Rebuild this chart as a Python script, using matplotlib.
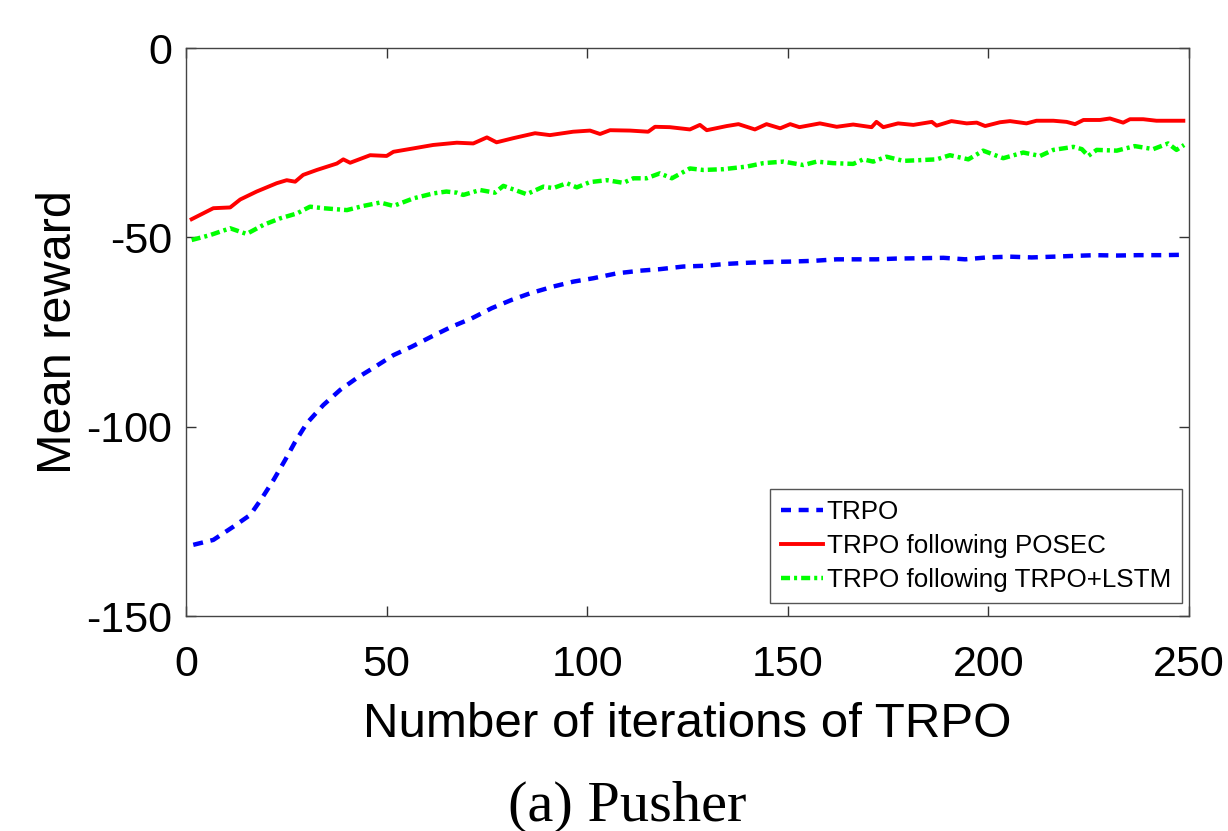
import matplotlib
matplotlib.use("Agg")
import matplotlib.pyplot as plt

plt.rcParams['font.family'] = ['Liberation Sans', 'DejaVu Sans']
plt.rcParams['lines.scale_dashes'] = False
plt.rcParams['axes.unicode_minus'] = False

# ---- data ----
trpo_x = [1.8, 6.8, 11.8, 16, 18.9, 21.8, 24.7, 27.2, 30.1, 34.2, 38.4, 42.5, 47.1, 51.7,
          56.2, 61.2, 66.2, 71.2, 76.2, 81.2, 85.7, 91.5, 96.5, 101.5, 107.4, 113.2, 118.1,
          124, 129.4, 134.8, 140.2, 145.6, 150.6, 156.4, 162.2, 167.2, 172.1, 177.1, 183.8,
          188.8, 194.2, 199.6, 205.4, 210.8, 216.2, 221.2, 226.6, 232, 237.4, 243.2, 248.6]
trpo_y = [-131.2, -129.9, -126.4, -123.3, -118.9, -114.1, -108.8, -104, -99.1, -94.3, -90.3,
          -87.2, -84.2, -81.1, -78.9, -76.2, -73.6, -71.4, -68.7, -66.5, -64.8, -63, -61.7,
          -60.8, -59.5, -58.8, -58.4, -57.7, -57.5, -57, -56.7, -56.5, -56.4, -56.2, -55.8,
          -55.8, -55.8, -55.6, -55.5, -55.4, -55.8, -55.3, -55.1, -55.3, -55.1, -54.9, -54.7,
          -54.8, -54.7, -54.7, -54.6]

posec_x = [1.4, 6.8, 11, 13.5, 17.6, 22.6, 25.1, 27.2, 29.2, 32.6, 37.6, 39.2, 40.9, 45.9, 50,
           51.7, 56.7, 61.6, 67.5, 71.6, 75, 77.4, 81.6, 87, 90.7, 96.5, 100.7, 103.2, 105.7,
           110.7, 115.2, 116.9, 120.6, 125.6, 128.1, 129.8, 134.8, 137.7, 141.8, 144.7, 148.1,
           150.6, 152.9, 158, 162.2, 166.3, 170.9, 172.1, 173.8, 177.5, 181.3, 185.9, 187.1,
           190.8, 194.6, 197.1, 199.2, 202.9, 205.4, 209.5, 212, 216.2, 219.5, 221.6, 223.7,
           227.8, 230.3, 233.6, 235.3, 238.6, 241.9, 245.3, 248.6]
posec_y = [-45.2, -42.3, -42.1, -40, -37.9, -35.7, -34.9, -35.3, -33.5, -32.2, -30.5, -29.4,
           -30.3, -28.3, -28.5, -27.4, -26.5, -25.6, -25, -25.2, -23.6, -24.9, -23.8, -22.5,
           -23, -22.1, -21.8, -22.7, -21.7, -21.8, -22.1, -20.8, -20.9, -21.5, -20.3, -21.7,
           -20.6, -20.1, -21.5, -20.1, -21.2, -20.1, -20.9, -19.9, -20.8, -20.2, -20.9, -19.5,
           -20.9, -19.9, -20.3, -19.5, -20.5, -19.3, -19.9, -19.7, -20.6, -19.6, -19.3, -19.9,
           -19.2, -19.2, -19.5, -20.1, -19, -19, -18.6, -19.7, -18.8, -18.8, -19.2, -19.2, -19.2]

lstm_x = [1.4, 6, 11, 15.1, 19.3, 23.4, 27.6, 30.9, 34.2, 40.1, 44.2, 48.4, 51.7, 56.7, 61.6,
          64.9, 67.5, 69.1, 73.3, 77, 79.1, 84.9, 89.1, 91.5, 94.9, 97.4, 100.7, 104.9, 109,
          111.5, 114.8, 118.1, 121.1, 125.6, 128.9, 133.9, 139.8, 143.9, 148.9, 153.9, 157.2,
          161.3, 166.3, 168.8, 171.3, 174.6, 178.8, 183, 187.1, 190.4, 195, 198.7, 203.7,
          208.7, 212.9, 216.2, 221.2, 223.3, 224.9, 227, 232, 236.5, 241.1, 244.8, 246.9, 248.8]
lstm_y = [-50.7, -49.4, -47.6, -49.1, -46.7, -45, -43.7, -41.9, -42.3, -42.8, -41.7, -40.8,
          -41.7, -39.7, -38.4, -37.9, -38.2, -38.8, -37.5, -38.2, -36.4, -38.6, -36.6, -37,
          -35.7, -36.8, -35.4, -34.9, -35.6, -34.4, -34.4, -33.1, -34.4, -31.8, -32.2, -32,
          -31.3, -30.4, -30, -30.9, -30, -30.4, -30.6, -29.4, -30, -28.7, -29.8, -29.6, -29.4,
          -28.3, -29.4, -27.1, -29.1, -27.6, -28.5, -26.9, -26.1, -26.7, -28.5, -26.9, -27.1,
          -25.9, -26.7, -25.2, -26.9, -25.6]

labels = ['TRPO', 'TRPO following POSEC', 'TRPO following TRPO+LSTM']
x_ticks = [0, 50, 100, 150, 200, 250]
y_ticks = [-150, -100, -50, 0]

# ---- figure ----
fig = plt.figure(figsize=(12.28, 8.31), dpi=100)
ax = fig.add_axes([0.1515, 0.2587, 0.8167, 0.6835])

ax.plot(trpo_x, trpo_y, color='#0000FF', lw=3.2, linestyle=(0, (7.2, 5.5)), label=labels[0])
ax.plot(posec_x, posec_y, color='#FF0000', lw=2.8, linestyle='-', label=labels[1])
ax.plot(lstm_x, lstm_y, color='#00FF00', lw=3.2, linestyle=(0, (6.5, 2.9, 2.2, 2.9)), label=labels[2])

ax.set_xlim(0, 250)
ax.set_ylim(-150, 0)
ax.set_xticks(x_ticks)
ax.set_yticks(y_ticks)
ax.tick_params(direction='in', length=7, width=1.0, colors='#333333', labelcolor='black',
               labelsize=31, top=True, right=True)
ax.tick_params(axis='x', pad=21)
ax.tick_params(axis='y', pad=10)
for s in ax.spines.values():
    s.set_color('#444444')
    s.set_linewidth(1.0)

ax.set_xlabel('Number of iterations of TRPO', fontsize=35.5, labelpad=12)
ax.set_ylabel('Mean reward', fontsize=35, labelpad=4)

leg = ax.legend(loc='lower right', bbox_to_anchor=(0.993, 0.023), borderaxespad=0,
                fontsize=18.7, handlelength=1.6, handletextpad=0.15, labelspacing=0.38,
                borderpad=0.42, fancybox=False, framealpha=1)
leg.get_frame().set_edgecolor('#555555')
leg.get_frame().set_linewidth(1.0)

fig.text(0.511, 0.012, '(a) Pusher', ha='center', va='baseline', fontsize=42,
         family=['Liberation Serif', 'DejaVu Serif'])

fig.savefig('out.png', dpi=100)
